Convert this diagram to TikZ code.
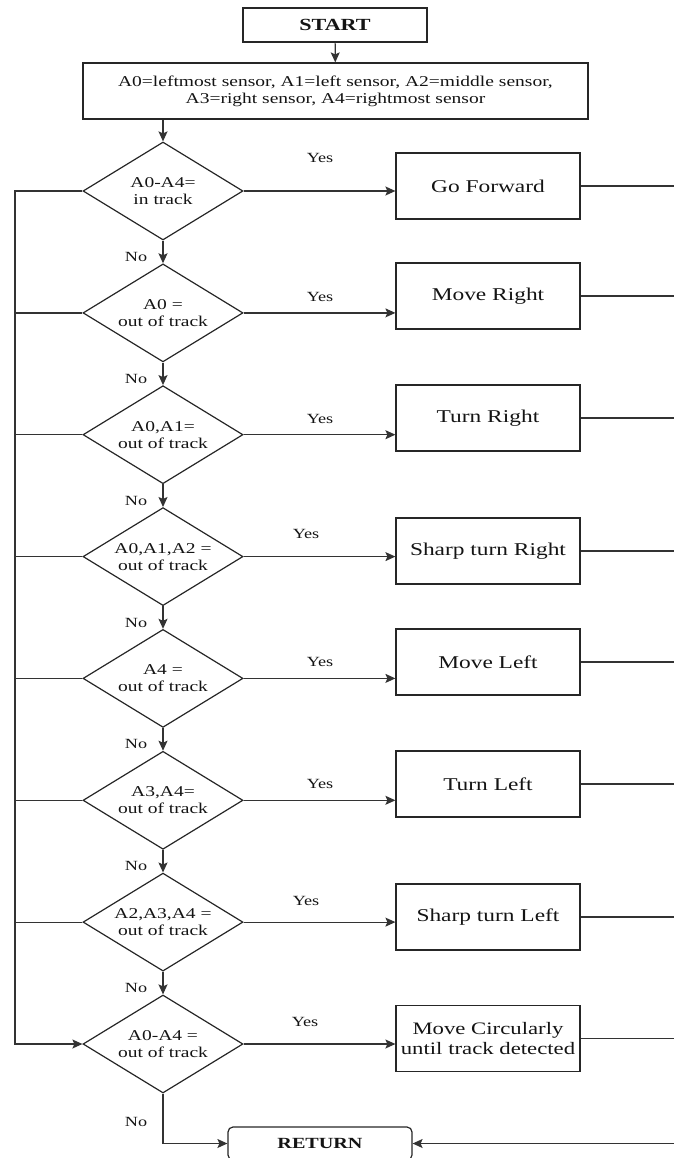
\documentclass[tikz,border=0pt]{standalone}
\usepackage{fontspec}
\setmainfont{Liberation Serif}[FakeStretch=1.3]
\usetikzlibrary{shapes.geometric,arrows.meta,calc}
\begin{document}
\begin{tikzpicture}[x=1pt,y=-1pt,
  base/.style={draw=black!85, line width=1.2pt, inner sep=0pt, align=center, text=black!92},
  rectbox/.style={base, rectangle, minimum width=184pt, minimum height=66pt, font=\fontsize{18}{20}\selectfont},
  decision/.style={base, diamond, shape aspect=1.633, minimum width=160pt, minimum height=98pt, font=\fontsize{15}{17}\selectfont},
  lbl/.style={font=\fontsize{14}{16}\selectfont, inner sep=0pt, text=black!92},
  conn/.style={draw=black!80, line width=1.2pt},
  arr/.style={conn, -{Stealth[length=10pt,width=9pt,inset=2pt]}}
]
\useasboundingbox (0,0) rectangle (674,1158);

% top
\node[base, minimum width=184pt, minimum height=34pt, font=\fontsize{17}{19}\selectfont\bfseries] (start) at (335,25) {START};
\node[base, minimum width=505pt, minimum height=56pt, font=\fontsize{15}{17}\selectfont] (info) at (335.5,91)
  {A0=leftmost sensor, A1=left sensor, A2=middle sensor,\\A3=right sensor, A4=rightmost sensor};

% decisions
\node[decision] (d1) at (163,191)   {A0-A4=\\in track};
\node[decision] (d2) at (163,312.9) {A0 =\\out of track};
\node[decision] (d3) at (163,434.7) {A0,A1=\\out of track};
\node[decision] (d4) at (163,556.6) {A0,A1,A2 =\\out of track};
\node[decision] (d5) at (163,678.4) {A4 =\\out of track};
\node[decision] (d6) at (163,800.3) {A3,A4=\\out of track};
\node[decision] (d7) at (163,922.1) {A2,A3,A4 =\\out of track};
\node[decision] (d8) at (163,1044)  {A0-A4 =\\out of track};

% actions
\node[rectbox] (a1) at (488,186)    {Go Forward};
\node[rectbox] (a2) at (488,296)    {Move Right};
\node[rectbox] (a3) at (488,418)    {Turn Right};
\node[rectbox] (a4) at (488,551)    {Sharp turn Right};
\node[rectbox] (a5) at (488,662)    {Move Left};
\node[rectbox] (a6) at (488,784)    {Turn Left};
\node[rectbox] (a7) at (488,917)    {Sharp turn Left};
\node[rectbox, font=\fontsize{17.5}{19.5}\selectfont] (a8) at (488,1038.5) {Move Circularly\\until track detected};

% return
\node[base, rounded corners=5pt, minimum width=184pt, minimum height=33pt, font=\fontsize{15.5}{17}\selectfont\bfseries] (ret) at (320,1143.5) {RETURN};

% top connectors
\draw[arr] (start) -- (info);
\draw[arr] (info.south -| d1.north) -- (d1.north);

% No connectors
\draw[arr] (d1.south) -- (d2.north);
\draw[arr] (d2.south) -- (d3.north);
\draw[arr] (d3.south) -- (d4.north);
\draw[arr] (d4.south) -- (d5.north);
\draw[arr] (d5.south) -- (d6.north);
\draw[arr] (d6.south) -- (d7.north);
\draw[arr] (d7.south) -- (d8.north);
\coordinate (rc) at (163,1143.5);
\draw[arr] (d8.south) -- (rc) -- (ret.west);

% Yes connectors
\foreach \i in {1,...,8} {
  \draw[arr] (d\i.east) -- (d\i.east -| a\i.west);
}

% right side lines
\foreach \i in {1,...,8} {
  \coordinate (r\i) at ($(a\i.east)+(100,0)$);
  \draw[conn] (a\i.east) -- (r\i -| 674,0);
}
\coordinate (rr) at (674,1143.5);
\draw[arr] (rr) -- (ret.east);

% left loop line
\coordinate (L1) at (15,191);
\coordinate (L8) at (15,1044);
\draw[arr] (d1.west) -- (L1) -- (L8) -- (d8.west);
\foreach \i in {2,...,7} {
  \draw[conn] (d\i.west) -- (d\i.west -| L1);
}

% labels
\node[lbl] (y1) at (320,158) {Yes};
\node[lbl] (y2) at (320,297) {Yes};
\node[lbl] (y3) at (320,419) {Yes};
\node[lbl] (y4) at (306,534) {Yes};
\node[lbl] (y5) at (320,662) {Yes};
\node[lbl] (y6) at (320,784) {Yes};
\node[lbl] (y7) at (306,901) {Yes};
\node[lbl] (y8) at (305,1022) {Yes};

\node[lbl] (n1) at (136,257) {No};
\node[lbl] (n2) at (136,379) {No};
\node[lbl] (n3) at (136,501) {No};
\node[lbl] (n4) at (136,623) {No};
\node[lbl] (n5) at (136,744) {No};
\node[lbl] (n6) at (136,866) {No};
\node[lbl] (n7) at (136,988) {No};
\node[lbl] (n8) at (136,1122) {No};
\end{tikzpicture}
\end{document}
